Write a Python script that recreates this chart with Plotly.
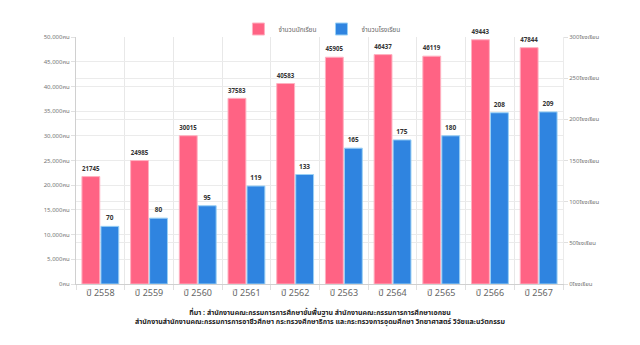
import plotly.graph_objects as go

years = ["ปี 2558", "ปี 2559", "ปี 2560", "ปี 2561", "ปี 2562",
         "ปี 2563", "ปี 2564", "ปี 2565", "ปี 2566", "ปี 2567"]
students = [21745, 24985, 30015, 37583, 40583, 45905, 46437, 46119, 49443, 47844]
schools = [70, 80, 95, 119, 133, 165, 175, 180, 208, 209]

left_ticks = list(range(0, 50001, 5000))
left_labels = [f"{v:,}คน" for v in left_ticks]
right_ticks = list(range(0, 301, 50))
right_labels = [f"{v}โรงเรียน" for v in right_ticks]

source_text = ("<b>ที่มา : สำนักงานคณะกรรมการการศึกษาขั้นพื้นฐาน สำนักงานคณะกรรมการการศึกษาเอกชน</b><br>"
               "<b>สำนักงานสำนักงานคณะกรรมการการอาชีวศึกษา กระทรวงศึกษาธิการ และกระทรวงการอุดมศึกษา วิทยาศาสตร์ วิจัยและนวัตกรรม</b>")

PINK = "#FF6384"
BLUE = "#2F84E0"
FONT = "Noto Sans Thai, Noto Sans, sans-serif"

fig = go.Figure()
fig.add_trace(go.Bar(
    x=years, y=students, name="จำนวนนักเรียน", yaxis="y",
    marker=dict(color=PINK, line=dict(color="#FFB1C1", width=1)),
    text=[f"<b>{v}</b>" for v in students], textposition="outside",
    textfont=dict(size=6.5, color="#333333", family=FONT),
    cliponaxis=False, offsetgroup="a",
))
fig.add_trace(go.Bar(
    x=years, y=schools, name="จำนวนโรงเรียน", yaxis="y2",
    marker=dict(color=BLUE, line=dict(color="#9AD0F5", width=1)),
    text=[f"<b>{v}</b>" for v in schools], textposition="outside",
    textfont=dict(size=6.5, color="#333333", family=FONT),
    cliponaxis=False, offsetgroup="b",
))

fig.update_layout(
    width=640, height=345,
    margin=dict(l=76, r=77, t=37, b=61, autoexpand=False),
    paper_bgcolor="white", plot_bgcolor="white",
    barmode="group", bargap=0.22, bargroupgap=0.06,
    font=dict(family=FONT, color="#666666"),
    showlegend=True,
    legend=dict(orientation="h", x=0.505, xanchor="center",
                yref="container", y=1 - 29 / 345, yanchor="middle",
                font=dict(size=6.5, color="#666666"), itemwidth=30,
                bgcolor="rgba(0,0,0,0)"),
    xaxis=dict(type="category", tickson="boundaries", showgrid=True,
               gridcolor="#E8E8E8", gridwidth=1,
               showline=True, linecolor="#D0D0D0",
               ticks="outside", ticklen=5, tickcolor="#E0E0E0",
               tickfont=dict(size=9, color="#666666")),
    yaxis=dict(range=[0, 50000], tickvals=left_ticks, ticktext=left_labels,
               showgrid=True, gridcolor="#EBEBEB", zeroline=False,
               showline=True, linecolor="#D0D0D0",
               ticks="outside", ticklen=4, tickcolor="#E0E0E0",
               tickfont=dict(size=6, color="#777777")),
    yaxis2=dict(range=[0, 300], tickvals=right_ticks, ticktext=right_labels,
                overlaying="y", side="right", showgrid=True, gridcolor="#EBEBEB",
                zeroline=False, showline=True, linecolor="#EBEBEB",
                ticks="outside", ticklen=4, tickcolor="#E0E0E0",
                tickfont=dict(size=6, color="#777777")),
    annotations=[dict(text=source_text, xref="paper", yref="paper",
                      x=0.5, y=-0.085, xanchor="center", yanchor="top",
                      showarrow=False, align="center",
                      font=dict(size=7, color="#222222", family=FONT))],
)

fig.write_html("out.html")
